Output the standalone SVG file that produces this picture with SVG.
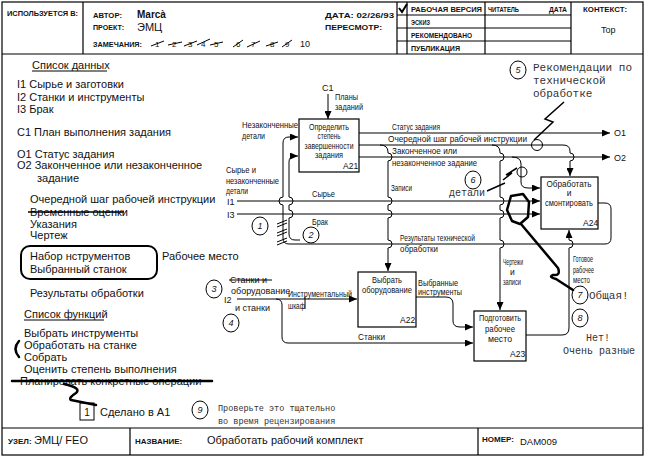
<svg xmlns="http://www.w3.org/2000/svg" width="646" height="459" viewBox="0 0 646 459">
<defs>
<marker id="ah" markerWidth="8" markerHeight="7" refX="8" refY="3.5" orient="auto" markerUnits="userSpaceOnUse"><path d="M0,0 L8,3.5 L0,7 Z" fill="#000"/></marker>
<style>
text{font-family:"Liberation Sans",Arial,sans-serif;fill:#111}
.h{font-size:8px;font-weight:bold}
.l{font-size:11px}
.d{font-size:8.5px}
.m{font-family:"Liberation Mono","Courier New",monospace;font-size:11px;fill:#333}
.m10{font-size:10px}
.m85{font-size:8.5px}
.n{font-size:9px;font-style:italic;text-anchor:middle}
.mid{text-anchor:middle}
.g{fill:none;stroke:#000;stroke-width:1.2}
.ln{fill:none;stroke:#000;stroke-width:1}
.ar{marker-end:url(#ah)}
.bx{fill:#fff;stroke:#000;stroke-width:1.2}
.c{fill:#fff;stroke:#000;stroke-width:1}
.t{fill:none;stroke:#000;stroke-width:2.5;stroke-linejoin:round;stroke-linecap:round}
.s{fill:none;stroke:#000;stroke-width:1.5}
</style>
</defs>
<rect width="646" height="459" fill="#fff"/>

<g id="frame">
<rect x="2" y="2" width="641" height="453" class="g"/>
<path class="g" d="M2,54 H643 M2,428 H643 M83,2 V54 M397,2 V54 M407,2 V54 M485,2 V54 M571,2 V54 M397,15 H571 M397,28 H571 M397,41 H571 M130,428 V455 M478,428 V455"/>
<text class="h" x="7" y="16" textLength="71" lengthAdjust="spacingAndGlyphs">ИСПОЛЬЗУЕТСЯ В:</text>
<text class="h" x="93" y="18" textLength="29" lengthAdjust="spacingAndGlyphs">АВТОР:</text>
<text x="137" y="18" font-size="10" font-weight="bold">Marcà</text>
<text class="h" x="93" y="30" textLength="31" lengthAdjust="spacingAndGlyphs">ПРОЕКТ:</text>
<text x="137" y="31" font-size="11">ЭМЦ</text>
<text class="h" x="93" y="47" textLength="49" lengthAdjust="spacingAndGlyphs">ЗАМЕЧАНИЯ:</text>
<g font-size="8">
<text x="155" y="47">1</text><text x="172" y="47">2</text><text x="188" y="47">3</text><text x="201" y="47">4</text><text x="214" y="47">5</text><text x="236" y="47">6</text><text x="251" y="47">7</text><text x="270" y="47">8</text><text x="285" y="47">9</text>
</g>
<path class="ln" stroke-width="1.3" d="M151,46 L164,41 M168,45 L182,42 M184,46 L197,41 M197,45 L210,39 M210,45 L223,42 M233,47 L243,40 M247,47 L260,41 M266,46 L278,42 M282,47 L292,40"/>
<text x="300" y="47" font-size="9">10</text>
<text class="h" x="325" y="18" textLength="69" lengthAdjust="spacingAndGlyphs">ДАТА: 02/26/93</text>
<text class="h" x="325" y="30" textLength="57" lengthAdjust="spacingAndGlyphs">ПЕРЕСМОТР:</text>
<path d="M399,8 L402,12 L407,4" fill="none" stroke="#000" stroke-width="2"/>
<text class="h" x="411" y="12" textLength="71" lengthAdjust="spacingAndGlyphs">РАБОЧАЯ ВЕРСИЯ</text>
<text class="h" x="488" y="12" textLength="31" lengthAdjust="spacingAndGlyphs">ЧИТАТЕЛЬ</text>
<text class="h" x="549" y="12" textLength="18" lengthAdjust="spacingAndGlyphs">ДАТА</text>
<text class="h" x="411" y="25" textLength="19" lengthAdjust="spacingAndGlyphs">ЭСКИЗ</text>
<text class="h" x="411" y="38" textLength="61" lengthAdjust="spacingAndGlyphs">РЕКОМЕНДОВАНО</text>
<text class="h" x="411" y="51" textLength="49" lengthAdjust="spacingAndGlyphs">ПУБЛИКАЦИЯ</text>
<text class="h" x="583" y="12" textLength="44" lengthAdjust="spacingAndGlyphs">КОНТЕКСТ:</text>
<text x="601" y="33" font-size="9">Top</text>
<text class="h" x="8" y="444">УЗЕЛ:</text>
<text x="34" y="444" font-size="11">ЭМЦ/ FEO</text>
<text class="h" x="135" y="444">НАЗВАНИЕ:</text>
<text x="207" y="444" font-size="11">Обработать рабочий комплект</text>
<text class="h" x="482" y="442">НОМЕР:</text>
<text x="520" y="445" font-size="9.5">DAM009</text>
</g>

<g id="lists">
<text class="l" x="32" y="69">Список данных</text>
<path class="ln" d="M32,71 H107"/>
<text class="l" x="17" y="88">I1 Сырье и заготовки</text>
<text class="l" x="17" y="101">I2 Станки и инструменты</text>
<text class="l" x="17" y="113">I3 Брак</text>
<text class="l" x="17" y="136">C1 План выполнения задания</text>
<text class="l" x="17" y="158">O1 Статус задания</text>
<text class="l" x="17" y="169">O2 Законченное или незаконченное</text>
<text class="l" x="37" y="182">задание</text>
<text class="l" x="30" y="203">Очередной шаг рабочей инструкции</text>
<text class="l" x="30" y="216">Временные оценки</text>
<path class="s" d="M28,212 H124"/>
<text class="l" x="30" y="228">Указания</text>
<text class="l" x="30" y="239">Чертеж</text>
<rect x="21" y="246" width="136" height="33" rx="9" fill="none" stroke="#000" stroke-width="2"/>
<text class="l" x="30" y="260">Набор нструментов</text>
<text class="l" x="30" y="273">Выбранный станок</text>
<text class="l" x="162" y="260">Рабочее место</text>
<text class="l" x="30" y="297">Результаты обработки</text>
<text class="l" x="24" y="318">Список функций</text>
<path class="ln" d="M24,320 H104"/>
<text class="l" x="24" y="337">Выбрать инструменты</text>
<text class="l" x="24" y="349">Обработать на станке</text>
<text class="l" x="24" y="361">Собрать</text>
<text class="l" x="24" y="373">Оценить степень выполнения</text>
<text class="l" x="20" y="385">Планировать конкретные операции</text>
<path class="t" d="M12,381 H212"/>
<path class="t" d="M19,341 Q12,349 19,357"/>
<path class="t" d="M64,384 Q82,388 76,393 Q68,398 71,400 L96,405"/>
<rect x="80" y="403" width="14" height="17" fill="none" stroke="#000" stroke-width="1"/>
<text x="87" y="416" font-size="10" class="mid">1</text>
<text class="l" x="100" y="416">Сделано в А1</text>
</g>

<g id="connectors">
<path class="ln ar" d="M328,94 V119"/>
<path class="ln ar" d="M359,133 H610"/>
<path class="ln ar" d="M359,145 H563 Q570,145 570,151 V153 A4,4 0 0 1 570,161 V176"/>
<path class="ln ar" d="M359,157 H610"/>
<path class="ln ar" d="M598,203 H605 Q611,203 611,209 V238 Q611,244 605,244 H289 Q283,244 283,238 V205 A4,4 0 0 1 283,197 V143 Q283,137 289,137 H298"/>
<path class="ln ar" d="M300,240 H295 Q289,240 289,234 V218 A4,4 0 0 0 289,210 V205 A4,4 0 0 0 289,197 V162 Q289,156 295,156 H298"/>
<path class="ln ar" d="M237,201 H540"/>
<path class="ln ar" d="M237,214 H540"/>
<path class="ln ar" d="M512,157 Q521,157 521,164 V182 Q521,188 528,188 H540"/>
<path class="ln ar" d="M380,145 Q388,145 388,152 V153 A4,4 0 0 1 388,161 V197 A4,4 0 0 1 388,205 V210 A4,4 0 0 1 388,218 V240 A4,4 0 0 1 388,248 V271"/>
<path class="ln ar" d="M492,145 Q500,145 500,152 V153 A4,4 0 0 1 500,161 V197 A4,4 0 0 1 500,205 V210 A4,4 0 0 1 500,218 V240 A4,4 0 0 1 500,248 V310"/>
<path class="ln ar" d="M237,299 H357"/>
<path class="ln ar" d="M276,299 Q282,299 282,305 V337 Q282,343 288,343 H473"/>
<path class="ln ar" d="M416,297 H446 Q453,297 453,304 V321 Q453,327 460,327 H473"/>
<path class="ln ar" d="M526,335 H562 Q569,335 569,328 V248 A4,4 0 0 0 569,240 V230"/>
<path class="ln" d="M305,297 V309"/>
<path class="ln" stroke-width="1.3" d="M277,224 L287,220 M277,227 L287,223 M277,233 L287,229 M277,236 L287,232 M277,242 L287,238 M277,245 L287,241"/>
</g>

<g id="labels">
<text x="322" y="91" font-size="9">C1</text>
<text class="d" x="335" y="100" textLength="23" lengthAdjust="spacingAndGlyphs">Планы</text>
<text class="d" x="335" y="110" textLength="28" lengthAdjust="spacingAndGlyphs">заданий</text>
<text class="d" x="242" y="128" textLength="56" lengthAdjust="spacingAndGlyphs">Незаконченные</text>
<text class="d" x="242" y="139" textLength="23" lengthAdjust="spacingAndGlyphs">детали</text>
<text class="d" x="226" y="173" textLength="30" lengthAdjust="spacingAndGlyphs">Сырье и</text>
<text class="d" x="226" y="184" textLength="53" lengthAdjust="spacingAndGlyphs">незаконченные</text>
<text class="d" x="226" y="194" textLength="22" lengthAdjust="spacingAndGlyphs">детали</text>
<text x="227" y="205" font-size="9">I1</text>
<text x="227" y="218" font-size="9">I3</text>
<text x="224" y="303" font-size="9">I2</text>
<text class="d" x="312" y="197" textLength="23" lengthAdjust="spacingAndGlyphs">Сырье</text>
<text class="d" x="312" y="225" textLength="16" lengthAdjust="spacingAndGlyphs">Брак</text>
<text class="d" x="392" y="130" textLength="48" lengthAdjust="spacingAndGlyphs">Статус задания</text>
<text class="d" x="388" y="142" textLength="139" lengthAdjust="spacingAndGlyphs">Очередной шаг рабочей инструкции</text>
<text class="d" x="392" y="154" textLength="65" lengthAdjust="spacingAndGlyphs">Законченное или</text>
<text class="d" x="392" y="166" textLength="85" lengthAdjust="spacingAndGlyphs">незаконченное задание</text>
<text class="d" x="391" y="191" textLength="21" lengthAdjust="spacingAndGlyphs">Записи</text>
<text class="d" x="400" y="241" textLength="75" lengthAdjust="spacingAndGlyphs">Результаты технической</text>
<text class="d" x="400" y="252" textLength="38" lengthAdjust="spacingAndGlyphs">обработки</text>
<text class="d" x="503" y="265" textLength="20" lengthAdjust="spacingAndGlyphs">Чертежи</text>
<text class="d" x="510" y="275">и</text>
<text class="d" x="503" y="285" textLength="18" lengthAdjust="spacingAndGlyphs">записи</text>
<text class="d" x="573" y="262" textLength="20" lengthAdjust="spacingAndGlyphs">Готовое</text>
<text class="d" x="573" y="273" textLength="21" lengthAdjust="spacingAndGlyphs">рабочее</text>
<text class="d" x="573" y="283" textLength="17" lengthAdjust="spacingAndGlyphs">место</text>
<text class="d" x="418" y="286" textLength="40" lengthAdjust="spacingAndGlyphs">Выбранные</text>
<text class="d" x="418" y="295" textLength="44" lengthAdjust="spacingAndGlyphs">инструменты</text>
<text class="d" x="288" y="297" textLength="64" lengthAdjust="spacingAndGlyphs">Инструментальный</text>
<text class="d" x="288" y="309" textLength="17" lengthAdjust="spacingAndGlyphs">шкаф</text>
<text class="d" x="358" y="340" textLength="27" lengthAdjust="spacingAndGlyphs">Станки</text>
<text x="614" y="136" font-size="9">O1</text>
<text x="614" y="161" font-size="9">O2</text>
<text x="230" y="283" font-size="9">Станки и</text>
<path class="ln" stroke-width="1.3" d="M229,280 H272"/>
<text x="231" y="294" font-size="9">оборудование</text>
<text x="235" y="311" font-size="9">и станки</text>
</g>

<g id="A21">
<rect class="bx" x="299" y="119" width="60" height="53"/>
<text class="d mid" x="329" y="130" textLength="40" lengthAdjust="spacingAndGlyphs">Определить</text>
<text class="d mid" x="329" y="139" textLength="23" lengthAdjust="spacingAndGlyphs">степень</text>
<text class="d mid" x="329" y="149" textLength="49" lengthAdjust="spacingAndGlyphs">завершенности</text>
<text class="d mid" x="329" y="158" textLength="28" lengthAdjust="spacingAndGlyphs">задания</text>
<text class="d" x="343" y="169">A21</text>
</g>
<g id="A22">
<rect class="bx" x="358" y="272" width="58" height="55"/>
<text class="d mid" x="387" y="283" textLength="30" lengthAdjust="spacingAndGlyphs">Выбрать</text>
<text class="d mid" x="387" y="293" textLength="50" lengthAdjust="spacingAndGlyphs">оборудование</text>
<text class="d" x="400" y="323">A22</text>
</g>
<g id="A23">
<rect class="bx" x="474" y="311" width="52" height="50"/>
<text class="d mid" x="500" y="321" textLength="42" lengthAdjust="spacingAndGlyphs">Подготовить</text>
<text class="d mid" x="500" y="332" textLength="30" lengthAdjust="spacingAndGlyphs">рабочее</text>
<text class="d mid" x="500" y="342" textLength="24" lengthAdjust="spacingAndGlyphs">место</text>
<text class="d" x="510" y="357">A23</text>
</g>
<g id="A24">
<rect class="bx" x="541" y="177" width="57" height="52"/>
<text class="d mid" x="569" y="187" textLength="45" lengthAdjust="spacingAndGlyphs">Обработать</text>
<text class="d mid" x="569" y="196">и</text>
<text class="d mid" x="569" y="206" textLength="48" lengthAdjust="spacingAndGlyphs">смонтировать</text>
<text class="d" x="583" y="226">A24</text>
</g>

<g id="annotations">
<ellipse class="c" cx="260" cy="226" rx="8" ry="9"/><text class="n" x="260" y="229">1</text>
<ellipse class="c" cx="311" cy="235" rx="8" ry="8"/><text class="n" x="311" y="238">2</text>
<ellipse class="c" cx="214" cy="289" rx="8" ry="9"/><text class="n" x="214" y="292">3</text>
<ellipse class="c" cx="231" cy="323" rx="8" ry="9"/><text class="n" x="231" y="326">4</text>
<ellipse class="c" cx="518" cy="70" rx="8" ry="9"/><text class="n" x="518" y="73">5</text>
<ellipse class="c" cx="473" cy="180" rx="8" ry="9"/><text class="n" x="473" y="183">6</text>
<ellipse class="c" cx="580" cy="295" rx="8" ry="9"/><text class="n" x="580" y="298">7</text>
<ellipse class="c" cx="580" cy="318" rx="8" ry="9"/><text class="n" x="580" y="321">8</text>
<ellipse class="c" cx="200" cy="410" rx="8" ry="9"/><text class="n" x="200" y="413">9</text>
<circle cx="537" cy="145" r="5.5" fill="none" stroke="#000"/>
<circle cx="522" cy="172" r="5" fill="none" stroke="#000"/>
<path class="s" d="M534,140 L553,122 L545,119 L564,102"/>
<path class="s" d="M487,191 L505,183 M503,180 L512,173 L506,175 L517,168"/>
<path class="t" d="M511,196 L523,194 L529,202 L528,217 L520,224 L512,221 L507,210 Z"/>
<path class="t" d="M521,224 L558,268 Q561,276 553,275 Q548,277 556,279 L573,290"/>
<text class="m" x="533" y="71">Рекомендации по</text>
<text class="m" x="533" y="84">технической</text>
<text class="m" x="533" y="97">обработке</text>
<text class="m m10" x="449" y="196">детали</text>
<text class="m" x="589" y="299">Общая!</text>
<text class="m m10 mid" x="598" y="341">Нет!</text>
<text class="m m10 mid" x="599" y="354">Очень разные</text>
<text class="m m85" x="218" y="411">Проверьте это тщательно</text>
<text class="m m85" x="218" y="424">во время рецензирования</text>
</g>
</svg>
